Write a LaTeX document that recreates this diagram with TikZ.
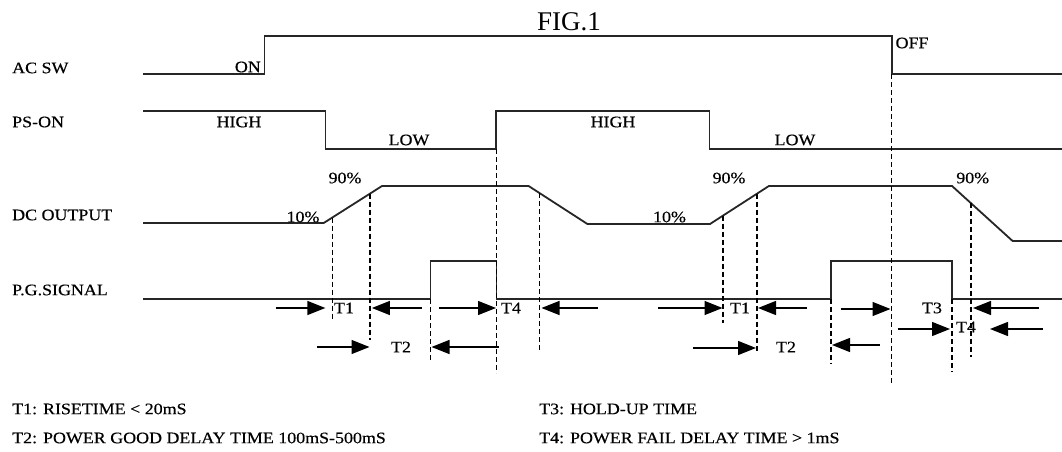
\documentclass[tikz,border=0pt]{standalone}
\usepackage{fontspec}
\setmainfont{Liberation Serif}
\newfontfamily\lblfont{Liberation Serif}[FakeStretch=1.12,FakeBold=0.4]
\usetikzlibrary{arrows.meta}
\tikzset{
  sig/.style={line width=1.8pt, line join=miter, draw=black!85},
  dsh/.style={line width=1.5pt, dash pattern=on 5pt off 3pt},
  dim/.style={line width=1.3pt, -{Triangle[length=18pt,width=14pt]}},
  lbl/.style={font=\lblfont\fontsize{16}{18}\selectfont, inner sep=0pt},
  signame/.style={lbl, anchor=west},
}
\begin{document}
\begin{tikzpicture}[x=1pt,y=-1pt]
\useasboundingbox[fill=white] (0,0) rectangle (1062,452);
% title
\node[inner sep=0pt, font=\fontsize{27}{29}\selectfont] (fig) at (569,22) {FIG.1};
% signal names
\node[signame] (acsw) at (12,68) {AC SW};
\node[signame] (pson) at (12,122) {PS-ON};
\node[signame] (dcout) at (12,215) {DC OUTPUT};
\node[signame] (pg) at (12,290) {P.G.SIGNAL};
% waveforms
\draw[sig] (143,74) -- (264.5,74) -- (264.5,36) -- (891.6,36) -- (891.6,74) -- (1062,74);
\draw[sig] (143,111) -- (325.4,111) -- (325.4,149) -- (496,149) -- (496,111) -- (709.4,111) -- (709.4,149) -- (1062,149);
\draw[sig] (143,223) -- (323.7,223) -- (382,186) -- (528.6,186) -- (587.4,224) -- (710,224) -- (768.9,186) -- (952,186) -- (1012.6,241) -- (1062,241);
\draw[sig] (143,299) -- (430.4,299) -- (430.4,261) -- (496.5,261) -- (496.5,299) -- (831,299) -- (831,261) -- (952,261) -- (952,299) -- (1062,299);
% level labels
\node[lbl, anchor=east] (on) at (261,67) {ON};
\node[lbl] (off) at (912,43) {OFF};
\node[lbl] (high1) at (239,122) {HIGH};
\node[lbl] (high2) at (613,122) {HIGH};
\node[lbl] (low1) at (409,140) {LOW};
\node[lbl] (low2) at (795,140) {LOW};
\node[lbl] (p10a) at (303,217) {10\%};
\node[lbl] (p10b) at (669.5,217) {10\%};
\node[lbl] (p90a) at (345,178) {90\%};
\node[lbl] (p90b) at (729,178) {90\%};
\node[lbl] (p90c) at (972.7,178) {90\%};
% dashed markers
\draw[dsh] (332.3,217.5) -- (332.3,320);
\draw[dsh] (370.2,193.5) -- (370.2,340);
\draw[dsh] (496.5,149) -- (496.5,373);
\draw[dsh] (430.4,299) -- (430.4,361);
\draw[dsh] (539.7,193.2) -- (539.7,352);
\draw[dsh] (723.2,215.5) -- (723.2,323);
\draw[dsh] (756.8,193.8) -- (756.8,353);
\draw[dsh] (831,299) -- (831,364);
\draw[dsh] (891.6,74) -- (891.6,384);
\draw[dsh] (952,299) -- (952,372);
\draw[dsh] (971,203) -- (971,357);
% timing arrows
\draw[dim] (275.5,308) -- (325.4,308);
\draw[dim] (421.8,308) -- (371.9,308);
\draw[dim] (439,308) -- (496,308);
\draw[dim] (597.8,308) -- (541.5,308);
\draw[dim] (658,308) -- (722.5,308);
\draw[dim] (807,308) -- (758,308);
\draw[dim] (840.8,309) -- (890.5,309);
\draw[dim] (1038.5,308) -- (973,308);
\draw[dim] (897.8,329) -- (950,329);
\draw[dim] (1042.6,329) -- (990,329);
\draw[dim] (316.8,347) -- (369.5,347);
\draw[dim] (498.6,347) -- (431.5,347);
\draw[dim] (692.8,348) -- (756,348);
\draw[dim] (879.5,345) -- (832,345);
\node[lbl] (t1a) at (344,308) {T1};
\node[lbl] (t4a) at (511,308) {T4};
\node[lbl] (t1b) at (740,308) {T1};
\node[lbl] (t3) at (932,308) {T3};
\node[lbl] (t4b) at (966,327) {T4};
\node[lbl] (t2a) at (401,347) {T2};
\node[lbl] (t2b) at (786,347) {T2};
% legend
\node[signame] (l1) at (12,409) {T1: RISETIME < 20mS};
\node[signame] (l2) at (12,438) {T2: POWER GOOD DELAY TIME 100mS-500mS};
\node[signame] (l3) at (539,409) {T3: HOLD-UP TIME};
\node[signame] (l4) at (539,438) {T4: POWER FAIL DELAY TIME > 1mS};
\end{tikzpicture}
\end{document}
